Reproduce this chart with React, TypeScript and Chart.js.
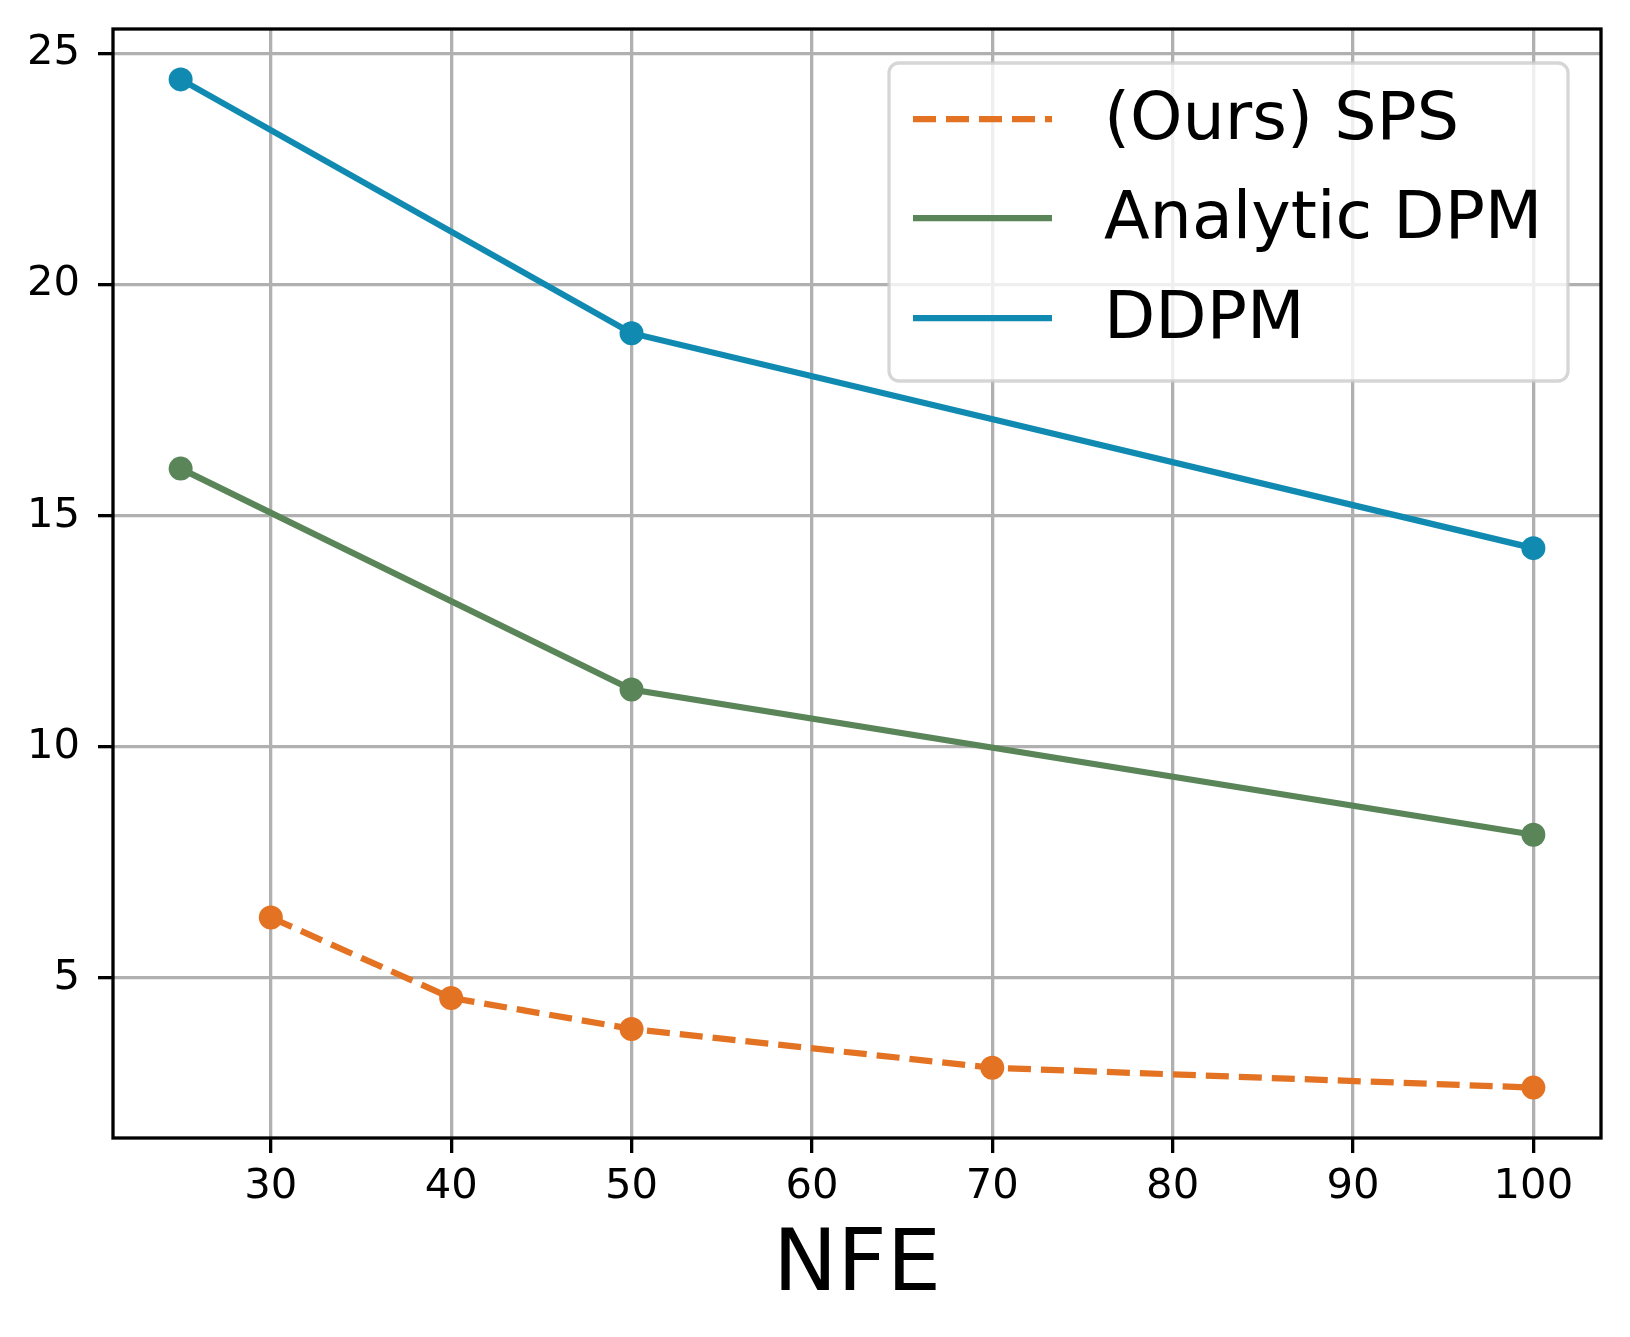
import { useEffect, useRef } from "react";
import { Chart, registerables } from "chart.js";

Chart.register(...registerables);

const spsNfe = [30, 40, 50, 70, 100];
const spsFid = [6.31, 4.57, 3.9, 3.06, 2.63];

const analyticNfe = [25, 50, 100];
const analyticFid = [16.02, 11.24, 8.1];

const ddpmNfe = [25, 50, 100];
const ddpmFid = [24.44, 18.95, 14.3];

const xTicks = [30, 40, 50, 60, 70, 80, 90, 100];
const yTicks = [5, 10, 15, 20, 25];

const seriesLabels = ["(Ours) SPS", "Analytic DPM", "DDPM"];

const FONT = "'DejaVu Sans', sans-serif";
const LW = 6.25;

const toPoints = (xs: number[], ys: number[]) => xs.map((x, i) => ({ x, y: ys[i] }));

// frame on all four sides, then matplotlib-style legend inside the plot
const framePlugin = {
  id: "frameAndLegend",
  afterDraw(chart: any) {
    const { ctx, chartArea: ca } = chart;
    ctx.save();
    ctx.strokeStyle = "#000";
    ctx.lineWidth = 3.3;
    ctx.strokeRect(ca.left, ca.top, ca.right - ca.left, ca.bottom - ca.top);

    const w = 679;
    const h = 318;
    const bx = ca.right - 33 - w;
    const by = ca.top + 34;
    const r = 10;
    ctx.beginPath();
    ctx.moveTo(bx + r, by);
    ctx.arcTo(bx + w, by, bx + w, by + h, r);
    ctx.arcTo(bx + w, by + h, bx, by + h, r);
    ctx.arcTo(bx, by + h, bx, by, r);
    ctx.arcTo(bx, by, bx + w, by, r);
    ctx.closePath();
    ctx.fillStyle = "rgba(255,255,255,0.8)";
    ctx.fill();
    ctx.strokeStyle = "rgba(204,204,204,0.8)";
    ctx.lineWidth = 3.3;
    ctx.stroke();

    const rows = [56, 155, 255];
    chart.data.datasets.forEach((ds: any, i: number) => {
      const y = by + rows[i];
      ctx.beginPath();
      ctx.setLineDash(ds.borderDash || []);
      ctx.lineCap = "butt";
      ctx.strokeStyle = ds.borderColor;
      ctx.lineWidth = ds.borderWidth;
      ctx.moveTo(bx + 24, y);
      ctx.lineTo(bx + 163, y);
      ctx.stroke();
      ctx.setLineDash([]);
      ctx.fillStyle = "#000";
      ctx.font = `66.7px ${FONT}`;
      ctx.textBaseline = "middle";
      ctx.textAlign = "left";
      ctx.fillText(ds.label, bx + 215, y + 3);
    });
    ctx.restore();
  },
};

export default function App() {
  const chartRef = useRef<HTMLCanvasElement>(null);

  useEffect(() => {
    if (!chartRef.current) return;
    const ctx = chartRef.current.getContext("2d");
    if (!ctx) return;

    const line = (label: string, color: string, data: any, dash?: number[]) => ({
      label,
      data,
      borderColor: color,
      backgroundColor: color,
      pointBackgroundColor: color,
      pointBorderWidth: 0,
      pointRadius: 12,
      borderWidth: LW,
      borderDash: dash,
      tension: 0,
      fill: false,
    });

    const chart = new Chart(ctx, {
      type: "line",
      data: {
        datasets: [
          line(seriesLabels[0], "#e37222", toPoints(spsNfe, spsFid), [23, 10]),
          line(seriesLabels[1], "#5a8558", toPoints(analyticNfe, analyticFid)),
          line(seriesLabels[2], "#118ab2", toPoints(ddpmNfe, ddpmFid)),
        ],
      },
      options: {
        animation: false,
        responsive: true,
        maintainAspectRatio: false,
        devicePixelRatio: 1,
        events: [],
        layout: { padding: { top: 29, right: 29, left: 0, bottom: 0 } },
        plugins: {
          legend: { display: false },
          tooltip: { enabled: false },
        },
        scales: {
          x: {
            type: "linear",
            min: 21.25,
            max: 103.75,
            z: 1,
            afterBuildTicks: (scale: any) => {
              scale.ticks = xTicks.map((value) => ({ value }));
            },
            afterFit: (scale: any) => {
              scale.height = 199;
              scale.paddingLeft = 0;
              scale.paddingRight = 0;
            },
            border: { display: false },
            grid: {
              color: "#b0b0b0",
              lineWidth: 3.3,
              tickLength: 15,
              tickColor: "#000",
              tickWidth: 3.3,
            },
            ticks: {
              color: "#000",
              padding: 9,
              maxRotation: 0,
              font: { family: FONT, size: 41.7 },
            },
            title: {
              display: true,
              text: "NFE",
              color: "#000",
              font: { family: FONT, size: 86 },
              padding: { top: 0, bottom: 18 },
            },
          },
          y: {
            type: "linear",
            min: 1.54,
            max: 25.53,
            z: 1,
            afterBuildTicks: (scale: any) => {
              scale.ticks = yTicks.map((value) => ({ value }));
            },
            afterFit: (scale: any) => {
              scale.width = 113;
              scale.paddingTop = 0;
              scale.paddingBottom = 0;
            },
            border: { display: false },
            grid: {
              color: "#b0b0b0",
              lineWidth: 3.3,
              tickLength: 15,
              tickColor: "#000",
              tickWidth: 3.3,
            },
            ticks: {
              color: "#000",
              padding: 18,
              font: { family: FONT, size: 41.7 },
            },
          },
        },
      },
      plugins: [framePlugin],
    });

    return () => chart.destroy();
  }, []);

  return (
    <div
      style={{
        position: "fixed",
        left: 0,
        top: 0,
        width: 1630,
        height: 1337,
        background: "#fff",
      }}
    >
      <canvas ref={chartRef} />
    </div>
  );
}
